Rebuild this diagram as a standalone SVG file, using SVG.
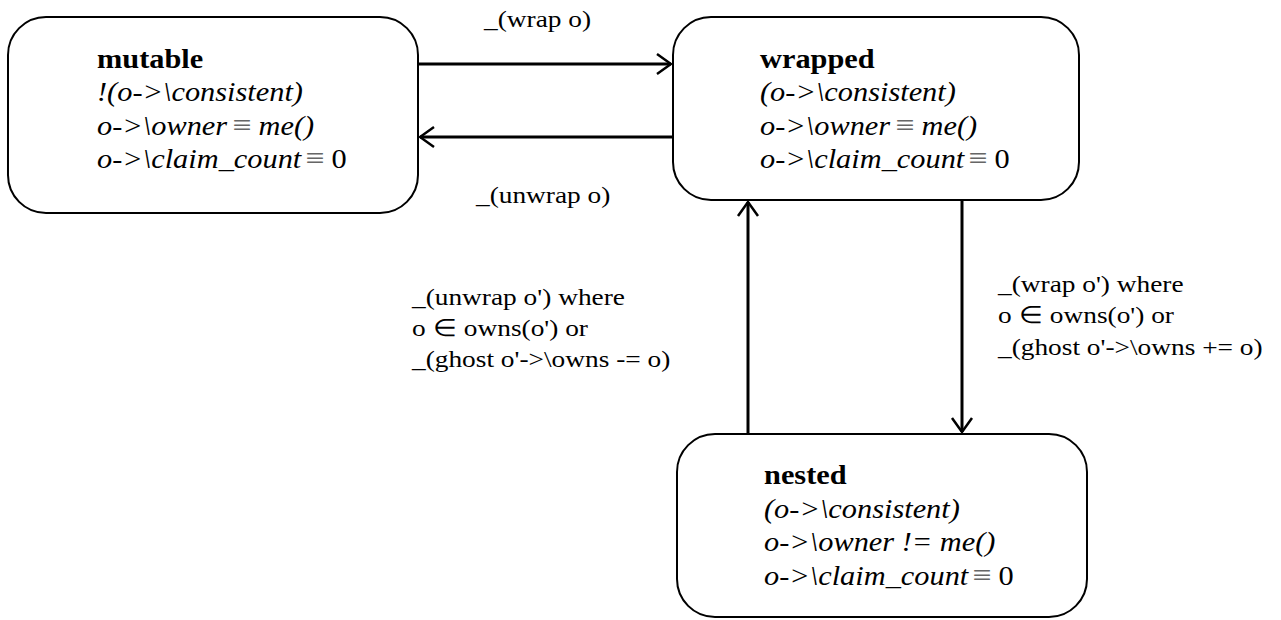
<svg xmlns="http://www.w3.org/2000/svg" width="1281" height="620" viewBox="0 0 1281 620">
<defs>
<style>
.box{fill:#fff;stroke:#000;stroke-width:2}
.t{font-family:"Liberation Serif","Times New Roman",serif;font-size:27px;fill:#000}
.b{font-weight:bold}
.i{font-style:italic}
.eq{font-style:normal;fill:#666;font-size:30px}
.n{font-style:normal}
.lbl{font-family:"Liberation Serif","Times New Roman",serif;font-size:24px;fill:#000}
.c{stroke:#000;stroke-width:3;fill:none}
</style>
<marker id="ah" viewBox="0 0 20 24" refX="19" refY="12" markerWidth="20" markerHeight="24" markerUnits="userSpaceOnUse" orient="auto">
<path d="M5,2 L19,12 L5,22" fill="none" stroke="#000" stroke-width="2.5"/>
</marker>
</defs>
<rect width="1281" height="620" fill="#fff"/>
<g id="connectors">
<line class="c" x1="419" y1="64" x2="671" y2="64" marker-end="url(#ah)"/>
<line class="c" x1="672" y1="137" x2="420" y2="137" marker-end="url(#ah)"/>
<line class="c" x1="748" y1="433" x2="748" y2="202" marker-end="url(#ah)"/>
<line class="c" x1="962" y1="201" x2="962" y2="432" marker-end="url(#ah)"/>
<g transform="translate(484,27) scale(1.14,1)"><text class="lbl">_(wrap o)</text></g>
<g transform="translate(476,203) scale(1.14,1)"><text class="lbl">_(unwrap o)</text></g>
<g transform="translate(412,0) scale(1.14,1)">
<text class="lbl" y="305">_(unwrap o') where</text>
<text class="lbl" y="336">o ∈ owns(o') or</text>
<text class="lbl" y="367">_(ghost o'-&gt;\owns -= o)</text>
</g>
<g transform="translate(998,0) scale(1.14,1)">
<text class="lbl" y="292">_(wrap o') where</text>
<text class="lbl" y="323">o ∈ owns(o') or</text>
<text class="lbl" y="355">_(ghost o'-&gt;\owns += o)</text>
</g>
</g>
<g id="mutable">
<rect class="box" x="8" y="17" width="410" height="196" rx="38" ry="38"/>
<g transform="translate(97,0) scale(1.125,1)">
<text class="t b" y="68">mutable</text>
<text class="t i" y="101">!(o-&gt;\consistent)</text>
<text class="t i" y="135">o-&gt;\owner<tspan class="eq" dx="5">≡</tspan><tspan dx="6">me()</tspan></text>
<text class="t i" y="168">o-&gt;\claim_count<tspan class="eq" dx="4">≡</tspan><tspan class="n" dx="6">0</tspan></text>
</g>
</g>
<g id="wrapped">
<rect class="box" x="673" y="17" width="406" height="183" rx="38" ry="38"/>
<g transform="translate(760,0) scale(1.125,1)">
<text class="t b" y="68">wrapped</text>
<text class="t i" y="101">(o-&gt;\consistent)</text>
<text class="t i" y="135">o-&gt;\owner<tspan class="eq" dx="5">≡</tspan><tspan dx="6">me()</tspan></text>
<text class="t i" y="168">o-&gt;\claim_count<tspan class="eq" dx="4">≡</tspan><tspan class="n" dx="6">0</tspan></text>
</g>
</g>
<g id="nested">
<rect class="box" x="677" y="434" width="410" height="183" rx="38" ry="38"/>
<g transform="translate(764,0) scale(1.125,1)">
<text class="t b" y="484">nested</text>
<text class="t i" y="518">(o-&gt;\consistent)</text>
<text class="t i" y="551">o-&gt;\owner != me()</text>
<text class="t i" y="585">o-&gt;\claim_count<tspan class="eq" dx="4">≡</tspan><tspan class="n" dx="6">0</tspan></text>
</g>
</g>
</svg>
